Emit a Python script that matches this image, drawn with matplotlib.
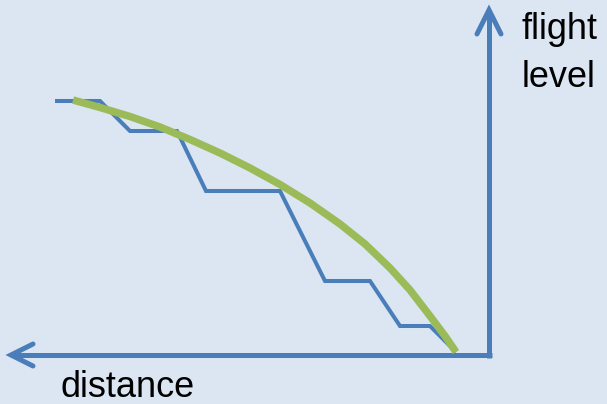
import matplotlib
matplotlib.use("Agg")
import matplotlib.pyplot as plt

# distance is measured to the left of the vertical axis, level upward from the horizontal axis
step_distance = [434, 389, 359, 312, 283, 209, 164, 119, 89, 59, 33]
step_level = [254, 254, 224, 224, 164, 164, 74, 74, 29, 29, 3]

curve_distance = [416, 389, 359, 329, 299, 269, 239, 209, 179, 149, 124, 99, 79, 59, 44, 33]
curve_level = [255, 247.5, 238.5, 228, 215.5, 202, 187, 170.5, 152, 131, 111, 87, 65, 39, 19, 3]

x_label = "distance"
y_label = ["flight", "level"]

blue = "#4a7ebb"
green = "#9bbb59"
bg = "#dce6f2"

fig = plt.figure(figsize=(6.07, 4.04), dpi=100)
fig.patch.set_facecolor(bg)
ax = fig.add_axes([0, 0, 1, 1])
ax.set_facecolor(bg)
ax.set_xlim(489, 489 - 607)
ax.set_ylim(-49, 355)
ax.axis("off")

# axes with open arrow heads
ax.plot([-3, 478], [0, 0], color=blue, lw=3.6, solid_capstyle="butt")
ax.plot([0, 0], [-3, 345], color=blue, lw=3.6, solid_capstyle="butt")
ax.plot([456, 478, 456], [11, 0, -11], color=blue, lw=3.6,
        solid_capstyle="round", solid_joinstyle="miter")
ax.plot([12, 0, -12], [321, 345, 321], color=blue, lw=3.6,
        solid_capstyle="round", solid_joinstyle="miter")

ax.plot(step_distance, step_level, color=blue, lw=2.9,
        solid_joinstyle="miter", solid_capstyle="butt")
ax.plot(curve_distance, curve_level, color=green, lw=5.4,
        solid_joinstyle="round", solid_capstyle="butt")

font = dict(family="Liberation Sans", fontsize=26, color="black", va="baseline", ha="left")
ax.text(-33, 316, y_label[0], **font)
ax.text(-33, 268, y_label[1], **font)
ax.text(428, -42, x_label, **font)

plt.savefig("out.png", dpi=100, facecolor=bg)
